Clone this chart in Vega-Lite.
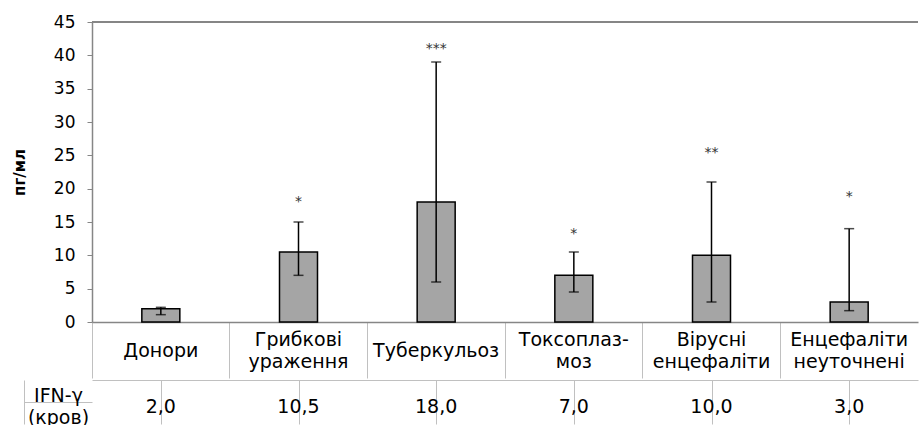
{
  "$schema": "https://vega.github.io/schema/vega-lite/v6.json",
  "padding": {"left": 12, "top": 13, "right": 0, "bottom": 0},
  "spacing": 0,
  "config": {
    "font": "DejaVu Sans",
    "view": {"stroke": null},
    "axis": {"labelFont": "DejaVu Sans", "titleFont": "DejaVu Sans", "labelColor": "#000000", "titleColor": "#000000"},
    "axisY": {"labelOverlap": false, "tickCount": 10},
    "locale": {"number": {"decimal": ",", "thousands": " ", "grouping": [3], "currency": ["", ""]}}
  },
  "datasets": {
    "d": [
      {"label": "Донори", "value": 2.0, "lo": 1.1, "hi": 2.2, "star": "", "starY": 0},
      {"label": "Грибкові|ураження", "value": 10.5, "lo": 7, "hi": 15, "star": "*", "starY": 18.3},
      {"label": "Туберкульоз", "value": 18.0, "lo": 6, "hi": 39, "star": "***", "starY": 41.3},
      {"label": "Токсоплаз-|моз", "value": 7.0, "lo": 4.5, "hi": 10.5, "star": "*", "starY": 13.5},
      {"label": "Вірусні|енцефаліти", "value": 10.0, "lo": 3, "hi": 21, "star": "**", "starY": 25.6},
      {"label": "Енцефаліти|неуточнені", "value": 3.0, "lo": 1.7, "hi": 14, "star": "*", "starY": 19.0}
    ]
  },
  "vconcat": [
    {
      "width": 826,
      "height": 300,
      "data": {"name": "d"},
      "layer": [
        {
          "mark": {"type": "bar", "fill": "#a5a5a5", "stroke": "#000000", "strokeWidth": 1.5, "width": 38},
          "encoding": {
            "x": {
              "field": "label", "type": "nominal", "sort": null,
              "scale": {"paddingInner": 0, "paddingOuter": 0},
              "axis": {
                "orient": "bottom", "title": null,
                "domainColor": "#868686", "domainWidth": 1.5,
                "ticks": true, "bandPosition": 0, "tickExtra": false, "tickSize": 56, "tickColor": "#c0c0c0", "tickWidth": 1,
                "labelExpr": "split(datum.label, '|')",
                "labelAngle": 0, "labelFontSize": 19,
                "labelPadding": {"condition": {"test": "indexof(datum.label, '|') >= 0", "value": -39}, "value": -28},
                "labelBaseline": "middle", "labelAlign": "center",
                "labelLineHeight": 22, "labelOverlap": false, "labelFlush": false, "labelBound": false, "labelLimit": 400,
                "minExtent": 56, "maxExtent": 56
              }
            },
            "y": {
              "field": "value", "type": "quantitative",
              "scale": {"domain": [0, 45], "nice": false, "zero": true},
              "axis": {
                "values": [0, 5, 10, 15, 20, 25, 30, 35, 40, 45],
                "grid": false, "labelOverlap": false,
                "domainColor": "#868686", "domainWidth": 1.5,
                "tickColor": "#868686", "tickSize": 5, "tickWidth": 1,
                "labelFontSize": 17, "labelPadding": 12,
                "title": "пг/мл", "titleFontSize": 15, "titleFontWeight": "bold", "titlePadding": 26
              }
            }
          }
        },
        {
          "mark": {"type": "rule", "color": "#868686", "strokeWidth": 1.5},
          "encoding": {"y": {"datum": 45, "type": "quantitative"}}
        },
        {
          "mark": {"type": "rule", "color": "#000000", "strokeWidth": 1.5},
          "encoding": {
            "x": {"field": "label", "type": "nominal", "sort": null},
            "y": {"field": "lo", "type": "quantitative"},
            "y2": {"field": "hi"}
          }
        },
        {
          "mark": {"type": "tick", "color": "#000000", "thickness": 1.5, "size": 10, "orient": "horizontal"},
          "encoding": {
            "x": {"field": "label", "type": "nominal", "sort": null},
            "y": {"field": "lo", "type": "quantitative"}
          }
        },
        {
          "mark": {"type": "tick", "color": "#000000", "thickness": 1.5, "size": 10, "orient": "horizontal"},
          "encoding": {
            "x": {"field": "label", "type": "nominal", "sort": null},
            "y": {"field": "hi", "type": "quantitative"}
          }
        },
        {
          "transform": [{"filter": "datum.star != ''"}],
          "mark": {"type": "text", "fontSize": 14, "color": "#333333", "baseline": "middle", "dy": 2},
          "encoding": {
            "x": {"field": "label", "type": "nominal", "sort": null},
            "y": {"field": "starY", "type": "quantitative"},
            "text": {"field": "star"}
          }
        }
      ]
    },
    {
      "width": 826,
      "height": 44,
      "data": {"name": "d"},
      "mark": {"type": "text", "fontSize": 19, "color": "#000000", "baseline": "middle", "dy": 5},
      "encoding": {
        "x": {
          "field": "label", "type": "nominal", "sort": null,
          "scale": {"paddingInner": 0, "paddingOuter": 0},
          "axis": {
            "orient": "top", "title": null, "labels": false,
            "domainColor": "#c0c0c0", "domainWidth": 1,
            "ticks": true, "bandPosition": 0, "tickExtra": false, "tickSize": -44, "tickColor": "#c0c0c0", "tickWidth": 1,
            "minExtent": 0, "maxExtent": 0
          }
        },
        "y": {
          "datum": "IFN-γ|(кров)", "type": "nominal",
          "scale": {"paddingInner": 0, "paddingOuter": 0},
          "axis": {
            "orient": "left", "title": null, "offset": 68,
            "domainColor": "#c0c0c0", "domainWidth": 1,
            "ticks": true, "bandPosition": 0, "tickExtra": false, "tickSize": -68, "tickColor": "#c0c0c0", "tickWidth": 1,
            "labelExpr": "split(datum.label, '|')",
            "labelFontSize": 19, "labelAlign": "center", "labelBaseline": "middle", "labelPadding": 34,
            "labelLineHeight": 22, "labelOffset": -7, "labelBound": false, "labelFlush": false, "labelLimit": 200
          }
        },
        "text": {"field": "value", "type": "quantitative", "format": ".1f"}
      }
    }
  ]
}
